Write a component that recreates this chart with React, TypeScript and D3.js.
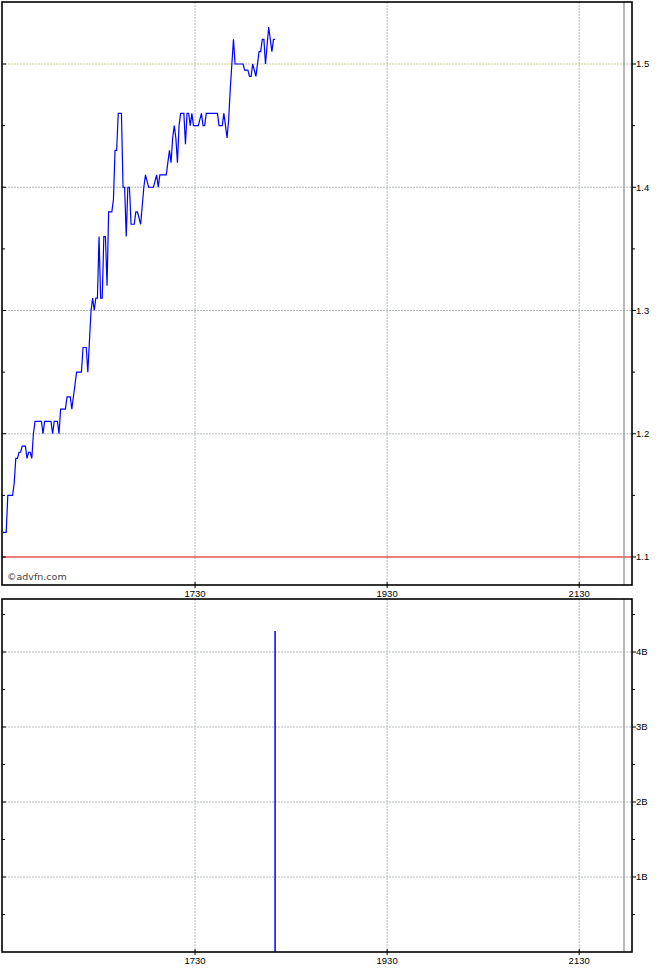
import * as d3 from "d3";

// intraday trades (time of day, last price)
const times = [
  "15:30", "15:32", "15:33", "15:36", "15:37", "15:38", "15:39", "15:40", "15:41", "15:42",
  "15:44", "15:45", "15:46", "15:47", "15:48", "15:49", "15:50", "15:54", "15:55", "15:56",
  "16:00", "16:01", "16:02", "16:04", "16:05", "16:06", "16:09", "16:10", "16:12", "16:13",
  "16:14", "16:16", "16:19", "16:20", "16:22", "16:23", "16:25", "16:26", "16:27", "16:28",
  "16:29", "16:30", "16:31", "16:32", "16:33", "16:34", "16:35", "16:36", "16:38", "16:39",
  "16:40", "16:41", "16:42", "16:44", "16:45", "16:46", "16:47", "16:48", "16:49", "16:50",
  "16:52", "16:53", "16:54", "16:56", "16:58", "16:59", "17:01", "17:04", "17:06", "17:07",
  "17:08", "17:12", "17:13", "17:14", "17:15", "17:16", "17:17", "17:18", "17:19", "17:20",
  "17:21", "17:23", "17:24", "17:25", "17:26", "17:27", "17:28", "17:29", "17:32", "17:34",
  "17:35", "17:36", "17:37", "17:44", "17:45", "17:47", "17:48", "17:49", "17:50", "17:51",
  "17:52", "17:53", "17:54", "17:55", "18:00", "18:01", "18:03", "18:04", "18:05", "18:06",
  "18:07", "18:08", "18:10", "18:11", "18:12", "18:13", "18:14", "18:16", "18:17", "18:18",
  "18:19", "18:20",
];
const prices = [
  1.12, 1.12, 1.15, 1.15, 1.16, 1.18, 1.18, 1.185, 1.185, 1.19,
  1.19, 1.18, 1.185, 1.185, 1.18, 1.2, 1.21, 1.21, 1.2, 1.21,
  1.21, 1.2, 1.21, 1.21, 1.2, 1.22, 1.22, 1.23, 1.23, 1.22,
  1.23, 1.25, 1.25, 1.27, 1.27, 1.25, 1.3, 1.31, 1.3, 1.31,
  1.31, 1.36, 1.31, 1.31, 1.36, 1.36, 1.32, 1.38, 1.38, 1.39,
  1.43, 1.43, 1.46, 1.46, 1.4, 1.4, 1.36, 1.4, 1.4, 1.37,
  1.37, 1.38, 1.38, 1.37, 1.4, 1.41, 1.4, 1.4, 1.41, 1.4,
  1.41, 1.41, 1.42, 1.43, 1.42, 1.44, 1.45, 1.44, 1.42, 1.45,
  1.46, 1.46, 1.435, 1.46, 1.46, 1.45, 1.46, 1.45, 1.45, 1.46,
  1.45, 1.45, 1.46, 1.46, 1.45, 1.45, 1.46, 1.45, 1.44, 1.455,
  1.48, 1.5, 1.52, 1.5, 1.5, 1.495, 1.495, 1.49, 1.49, 1.5,
  1.495, 1.49, 1.51, 1.51, 1.52, 1.52, 1.5, 1.53, 1.52, 1.51,
  1.52, 1.52,
];

// volume bars
const volTimes = ["18:20"];
const volumes = [4.28e9];

// axes
const timeTicks = ["17:30", "19:30", "21:30"];
const priceTicks = [1.1, 1.2, 1.3, 1.4, 1.5];
const priceMinor = [1.15, 1.25, 1.35, 1.45];
const volTicks = [1e9, 2e9, 3e9, 4e9];
const volMinor = [0.5e9, 1.5e9, 2.5e9, 3.5e9, 4.5e9];
const refPrice = 1.5;
const baseLine = 1.1;

const toMin = (t: string) => {
  const [h, m] = t.split(":").map(Number);
  return h * 60 + m;
};

const W = 670;
const H = 970;
const L = 2;
const R = 632;
const top1 = 2;
const bot1 = 585;
const top2 = 599;
const bot2 = 952;
const font = "'Liberation Sans', Arial, sans-serif";
const gridColor = "#b4bcbc";

export default function App() {
  const x = d3.scaleLinear().domain([toMin("15:30"), toMin("22:03")]).range([3, R]);
  const y = d3.scaleLinear().domain([1.1, 1.5]).range([557, 64]);
  const yv = d3.scaleLinear().domain([0, 4e9]).range([bot2, 652]);

  const pts = times.map((t, i) => [toMin(t), prices[i]] as [number, number]);
  const line = d3
    .line<[number, number]>()
    .x((d) => x(d[0]))
    .y((d) => y(d[1]));

  const tickLabel = (t: string) => t.replace(":", "");
  const volLabel = (v: number) => `${v / 1e9}B`;

  return (
    <div style={{ position: "absolute", left: 0, top: 0 }}>
      <svg width={W} height={H} style={{ display: "block", background: "#fff" }}>
        {/* ---- price panel ---- */}
        {timeTicks.map((t) => (
          <line key={"vg1" + t} x1={x(toMin(t))} x2={x(toMin(t))} y1={top1} y2={bot1}
            stroke={gridColor} strokeDasharray="2,1" />
        ))}
        {priceTicks.filter((p) => p !== refPrice && p !== baseLine).map((p) => (
          <line key={"hg" + p} x1={L} x2={R} y1={y(p)} y2={y(p)} stroke={gridColor} strokeDasharray="2,1" />
        ))}
        <line x1={L} x2={R} y1={y(refPrice)} y2={y(refPrice)} stroke="#c8c890" strokeDasharray="2,1" />
        <line x1={L} x2={R} y1={y(baseLine)} y2={y(baseLine)} stroke="#d80000" />
        <line x1={624} x2={624} y1={top1} y2={bot1} stroke="#8a8a8a" strokeWidth={1.2} />
        <path d={line(pts) ?? ""} fill="none" stroke="#0000ff" strokeWidth={1.2} />
        <rect x={L} y={top1} width={R - L} height={bot1 - top1} fill="none" stroke="#000" strokeWidth={1.6} />
        {priceTicks.map((p) => (
          <g key={"pt" + p}>
            <line x1={R} x2={R + 4} y1={y(p)} y2={y(p)} stroke="#000" />
            <line x1={L} x2={L + 4} y1={y(p)} y2={y(p)} stroke="#000" />
            <text x={R + 4} y={y(p)} dy="0.35em" fontSize={9.5} fontFamily={font} fill="#000">
              {d3.format(".1f")(p)}
            </text>
          </g>
        ))}
        {priceMinor.map((p) => (
          <g key={"pm" + p}>
            <line x1={R} x2={R + 3} y1={y(p)} y2={y(p)} stroke="#000" />
            <line x1={L} x2={L + 3} y1={y(p)} y2={y(p)} stroke="#000" />
          </g>
        ))}
        {timeTicks.map((t) => (
          <g key={"xt1" + t}>
            <line x1={x(toMin(t))} x2={x(toMin(t))} y1={bot1 - 3} y2={bot1 + 3} stroke="#000" />
            <text x={x(toMin(t))} y={597} textAnchor="middle" fontSize={9.5} fontFamily={font} fill="#000">
              {tickLabel(t)}
            </text>
          </g>
        ))}
        <text x={7} y={580} fontSize={9.5} fontFamily="'DejaVu Sans', sans-serif" fill="#444">
          ©advfn.com
        </text>

        {/* ---- volume panel ---- */}
        {timeTicks.map((t) => (
          <line key={"vg2" + t} x1={x(toMin(t))} x2={x(toMin(t))} y1={top2} y2={bot2}
            stroke={gridColor} strokeDasharray="2,1" />
        ))}
        {volTicks.map((v) => (
          <line key={"vgh" + v} x1={L} x2={R} y1={yv(v)} y2={yv(v)} stroke={gridColor} strokeDasharray="2,1" />
        ))}
        <line x1={624} x2={624} y1={top2} y2={bot2} stroke="#8a8a8a" strokeWidth={1.2} />
        {volTimes.map((t, i) => (
          <line key={"vb" + t} x1={x(toMin(t))} x2={x(toMin(t))} y1={yv(0)} y2={yv(volumes[i])}
            stroke="#0000ff" strokeWidth={1.5} />
        ))}
        <rect x={L} y={top2} width={R - L} height={bot2 - top2} fill="none" stroke="#000" strokeWidth={1.6} />
        {volTicks.map((v) => (
          <g key={"vt" + v}>
            <line x1={R} x2={R + 4} y1={yv(v)} y2={yv(v)} stroke="#000" />
            <line x1={L} x2={L + 4} y1={yv(v)} y2={yv(v)} stroke="#000" />
            <text x={R + 4} y={yv(v)} dy="0.35em" fontSize={9.5} fontFamily={font} fill="#000">
              {volLabel(v)}
            </text>
          </g>
        ))}
        {volMinor.map((v) => (
          <g key={"vm" + v}>
            <line x1={R} x2={R + 3} y1={yv(v)} y2={yv(v)} stroke="#000" />
            <line x1={L} x2={L + 3} y1={yv(v)} y2={yv(v)} stroke="#000" />
          </g>
        ))}
        {timeTicks.map((t) => (
          <g key={"xt2" + t}>
            <line x1={x(toMin(t))} x2={x(toMin(t))} y1={bot2 - 3} y2={bot2 + 3} stroke="#000" />
            <text x={x(toMin(t))} y={964} textAnchor="middle" fontSize={9.5} fontFamily={font} fill="#000">
              {tickLabel(t)}
            </text>
          </g>
        ))}
      </svg>
    </div>
  );
}
